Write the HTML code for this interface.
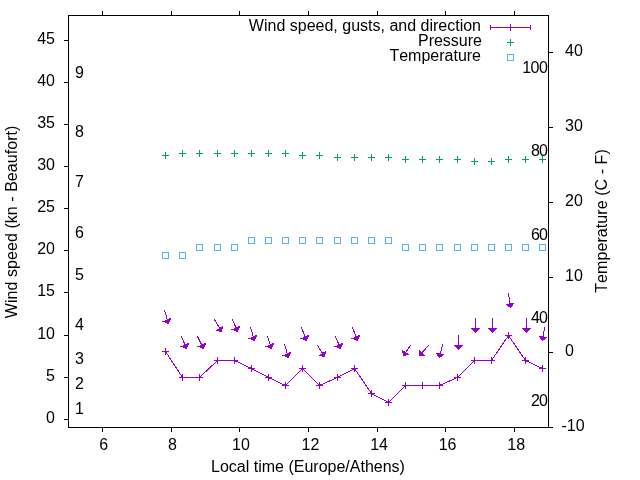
<!DOCTYPE html>
<html><head><meta charset="utf-8"><title>Wind speed, gusts, and direction</title>
<style>html,body{margin:0;padding:0;background:#fff;overflow:hidden}svg{display:block}text{font-family:"Liberation Sans",Arial,sans-serif;font-size:16px;fill:#000;font-kerning:none;font-variant-ligatures:none}</style></head><body>
<svg width="640" height="480" viewBox="0 0 640 480">
<rect width="640" height="480" fill="#fff"/>
<g stroke="#000" stroke-width="1" fill="none" shape-rendering="crispEdges">
<rect x="68.5" y="15.5" width="480.0" height="412.0"/>
</g><g fill="#000" shape-rendering="crispEdges">
<rect x="64" y="419" width="4" height="1"/>
<rect x="64" y="377" width="4" height="1"/>
<rect x="64" y="335" width="4" height="1"/>
<rect x="64" y="292" width="4" height="1"/>
<rect x="64" y="250" width="4" height="1"/>
<rect x="64" y="208" width="4" height="1"/>
<rect x="64" y="166" width="4" height="1"/>
<rect x="64" y="124" width="4" height="1"/>
<rect x="64" y="82" width="4" height="1"/>
<rect x="64" y="40" width="4" height="1"/>
<rect x="102" y="428" width="1" height="4"/>
<rect x="102" y="11" width="1" height="4"/>
<rect x="171" y="428" width="1" height="4"/>
<rect x="171" y="11" width="1" height="4"/>
<rect x="239" y="428" width="1" height="4"/>
<rect x="239" y="11" width="1" height="4"/>
<rect x="308" y="428" width="1" height="4"/>
<rect x="308" y="11" width="1" height="4"/>
<rect x="377" y="428" width="1" height="4"/>
<rect x="377" y="11" width="1" height="4"/>
<rect x="445" y="428" width="1" height="4"/>
<rect x="445" y="11" width="1" height="4"/>
<rect x="514" y="428" width="1" height="4"/>
<rect x="514" y="11" width="1" height="4"/>
<rect x="549" y="427" width="4" height="1"/>
<rect x="549" y="352" width="4" height="1"/>
<rect x="549" y="277" width="4" height="1"/>
<rect x="549" y="202" width="4" height="1"/>
<rect x="549" y="127" width="4" height="1"/>
<rect x="549" y="52" width="4" height="1"/>
</g>
<text x="55" y="423" text-anchor="end">0</text>
<text x="55" y="381" text-anchor="end">5</text>
<text x="55" y="339" text-anchor="end">10</text>
<text x="55" y="296" text-anchor="end">15</text>
<text x="55" y="254" text-anchor="end">20</text>
<text x="55" y="212" text-anchor="end">25</text>
<text x="55" y="170" text-anchor="end">30</text>
<text x="55" y="128" text-anchor="end">35</text>
<text x="55" y="86" text-anchor="end">40</text>
<text x="55" y="44" text-anchor="end">45</text>
<text x="103.8" y="450" text-anchor="middle">6</text>
<text x="172.4" y="450" text-anchor="middle">8</text>
<text x="240.9" y="450" text-anchor="middle">10</text>
<text x="310.5" y="450" text-anchor="middle">12</text>
<text x="379.1" y="450" text-anchor="middle">14</text>
<text x="447.6" y="450" text-anchor="middle">16</text>
<text x="516.2" y="450" text-anchor="middle">18</text>
<text x="561.5" y="431">-10</text>
<text x="565" y="356">0</text>
<text x="565" y="281">10</text>
<text x="565" y="206">20</text>
<text x="565" y="131">30</text>
<text x="565" y="56">40</text>
<text x="75" y="414">1</text>
<text x="75" y="389">2</text>
<text x="75" y="364">3</text>
<text x="75" y="330">4</text>
<text x="75" y="280">5</text>
<text x="75" y="238">6</text>
<text x="75" y="187">7</text>
<text x="75" y="137">8</text>
<text x="75" y="78">9</text>
<text x="546.9" y="406" text-anchor="end" letter-spacing="-1">20</text>
<text x="546.9" y="323" text-anchor="end" letter-spacing="-1">40</text>
<text x="546.9" y="240" text-anchor="end" letter-spacing="-1">60</text>
<text x="546.9" y="156" text-anchor="end" letter-spacing="-1">80</text>
<text x="547.4" y="73" text-anchor="end" letter-spacing="-0.5">100</text>
<text x="308" y="472" text-anchor="middle">Local time (Europe/Athens)</text>
<text transform="translate(16.5,221.9) rotate(-90)" text-anchor="middle" textLength="192.6" lengthAdjust="spacing">Wind speed (kn - Beaufort)</text>
<text transform="translate(607.4,221) rotate(-90)" text-anchor="middle" textLength="143.6" lengthAdjust="spacing">Temperature (C - F)</text>
<text x="481" y="31" text-anchor="end">Wind speed, gusts, and direction</text>
<text x="482" y="46" text-anchor="end">Pressure</text>
<text x="481" y="61" text-anchor="end">Temperature</text>
<g fill="none" stroke-width="1" shape-rendering="crispEdges">
<path d="M490 27.5H531M490.5 25V30M530.5 25V30M510.5 24V31" stroke="#9400d3"/>
<path d="M507.0 42.5H514.0M510.5 39.0V46.0" stroke="#009e73"/>
<rect x="507.5" y="54.5" width="6" height="6" stroke="#56b4e9"/>
<path d="M162.0 155.5H169.0M165.5 152.0V159.0" stroke="#009e73"/>
<path d="M179.0 153.5H186.0M182.5 150.0V157.0" stroke="#009e73"/>
<path d="M196.0 153.5H203.0M199.5 150.0V157.0" stroke="#009e73"/>
<path d="M214.0 153.5H221.0M217.5 150.0V157.0" stroke="#009e73"/>
<path d="M231.0 153.5H238.0M234.5 150.0V157.0" stroke="#009e73"/>
<path d="M248.0 153.5H255.0M251.5 150.0V157.0" stroke="#009e73"/>
<path d="M265.0 153.5H272.0M268.5 150.0V157.0" stroke="#009e73"/>
<path d="M282.0 153.5H289.0M285.5 150.0V157.0" stroke="#009e73"/>
<path d="M299.0 155.5H306.0M302.5 152.0V159.0" stroke="#009e73"/>
<path d="M316.0 155.5H323.0M319.5 152.0V159.0" stroke="#009e73"/>
<path d="M334.0 157.5H341.0M337.5 154.0V161.0" stroke="#009e73"/>
<path d="M351.0 157.5H358.0M354.5 154.0V161.0" stroke="#009e73"/>
<path d="M368.0 157.5H375.0M371.5 154.0V161.0" stroke="#009e73"/>
<path d="M385.0 157.5H392.0M388.5 154.0V161.0" stroke="#009e73"/>
<path d="M402.0 159.5H409.0M405.5 156.0V163.0" stroke="#009e73"/>
<path d="M419.0 159.5H426.0M422.5 156.0V163.0" stroke="#009e73"/>
<path d="M436.0 159.5H443.0M439.5 156.0V163.0" stroke="#009e73"/>
<path d="M454.0 159.5H461.0M457.5 156.0V163.0" stroke="#009e73"/>
<path d="M471.0 161.5H478.0M474.5 158.0V165.0" stroke="#009e73"/>
<path d="M488.0 161.5H495.0M491.5 158.0V165.0" stroke="#009e73"/>
<path d="M505.0 159.5H512.0M508.5 156.0V163.0" stroke="#009e73"/>
<path d="M522.0 159.5H529.0M525.5 156.0V163.0" stroke="#009e73"/>
<path d="M539.0 159.5H546.0M542.5 156.0V163.0" stroke="#009e73"/>
<rect x="162.5" y="252.5" width="6" height="6" stroke="#56b4e9"/>
<rect x="179.5" y="252.5" width="6" height="6" stroke="#56b4e9"/>
<rect x="196.5" y="244.5" width="6" height="6" stroke="#56b4e9"/>
<rect x="214.5" y="244.5" width="6" height="6" stroke="#56b4e9"/>
<rect x="231.5" y="244.5" width="6" height="6" stroke="#56b4e9"/>
<rect x="248.5" y="237.5" width="6" height="6" stroke="#56b4e9"/>
<rect x="265.5" y="237.5" width="6" height="6" stroke="#56b4e9"/>
<rect x="282.5" y="237.5" width="6" height="6" stroke="#56b4e9"/>
<rect x="299.5" y="237.5" width="6" height="6" stroke="#56b4e9"/>
<rect x="316.5" y="237.5" width="6" height="6" stroke="#56b4e9"/>
<rect x="334.5" y="237.5" width="6" height="6" stroke="#56b4e9"/>
<rect x="351.5" y="237.5" width="6" height="6" stroke="#56b4e9"/>
<rect x="368.5" y="237.5" width="6" height="6" stroke="#56b4e9"/>
<rect x="385.5" y="237.5" width="6" height="6" stroke="#56b4e9"/>
<rect x="402.5" y="244.5" width="6" height="6" stroke="#56b4e9"/>
<rect x="419.5" y="244.5" width="6" height="6" stroke="#56b4e9"/>
<rect x="436.5" y="244.5" width="6" height="6" stroke="#56b4e9"/>
<rect x="454.5" y="244.5" width="6" height="6" stroke="#56b4e9"/>
<rect x="471.5" y="244.5" width="6" height="6" stroke="#56b4e9"/>
<rect x="488.5" y="244.5" width="6" height="6" stroke="#56b4e9"/>
<rect x="505.5" y="244.5" width="6" height="6" stroke="#56b4e9"/>
<rect x="522.5" y="244.5" width="6" height="6" stroke="#56b4e9"/>
<rect x="539.5" y="244.5" width="6" height="6" stroke="#56b4e9"/>
</g>
<g fill="none" stroke="#9400d3" stroke-width="1" shape-rendering="crispEdges">
<polyline points="165.5,351.5 182.5,377.5 199.5,377.5 217.5,360.5 234.5,360.5 251.5,368.5 268.5,377.5 285.5,385.5 302.5,368.5 319.5,385.5 337.5,377.5 354.5,368.5 371.5,393.5 388.5,402.5 405.5,385.5 422.5,385.5 439.5,385.5 457.5,377.5 474.5,360.5 491.5,360.5 508.5,335.5 525.5,360.5 542.5,368.5"/>
</g><g fill="none" stroke-width="1" shape-rendering="crispEdges">
<path d="M162.0 351.5H169.0M165.5 348.0V355.0" stroke="#9400d3"/>
<path d="M179.0 377.5H186.0M182.5 374.0V381.0" stroke="#9400d3"/>
<path d="M196.0 377.5H203.0M199.5 374.0V381.0" stroke="#9400d3"/>
<path d="M214.0 360.5H221.0M217.5 357.0V364.0" stroke="#9400d3"/>
<path d="M231.0 360.5H238.0M234.5 357.0V364.0" stroke="#9400d3"/>
<path d="M248.0 368.5H255.0M251.5 365.0V372.0" stroke="#9400d3"/>
<path d="M265.0 377.5H272.0M268.5 374.0V381.0" stroke="#9400d3"/>
<path d="M282.0 385.5H289.0M285.5 382.0V389.0" stroke="#9400d3"/>
<path d="M299.0 368.5H306.0M302.5 365.0V372.0" stroke="#9400d3"/>
<path d="M316.0 385.5H323.0M319.5 382.0V389.0" stroke="#9400d3"/>
<path d="M334.0 377.5H341.0M337.5 374.0V381.0" stroke="#9400d3"/>
<path d="M351.0 368.5H358.0M354.5 365.0V372.0" stroke="#9400d3"/>
<path d="M368.0 393.5H375.0M371.5 390.0V397.0" stroke="#9400d3"/>
<path d="M385.0 402.5H392.0M388.5 399.0V406.0" stroke="#9400d3"/>
<path d="M402.0 385.5H409.0M405.5 382.0V389.0" stroke="#9400d3"/>
<path d="M419.0 385.5H426.0M422.5 382.0V389.0" stroke="#9400d3"/>
<path d="M436.0 385.5H443.0M439.5 382.0V389.0" stroke="#9400d3"/>
<path d="M454.0 377.5H461.0M457.5 374.0V381.0" stroke="#9400d3"/>
<path d="M471.0 360.5H478.0M474.5 357.0V364.0" stroke="#9400d3"/>
<path d="M488.0 360.5H495.0M491.5 357.0V364.0" stroke="#9400d3"/>
<path d="M505.0 335.5H512.0M508.5 332.0V339.0" stroke="#9400d3"/>
<path d="M522.0 360.5H529.0M525.5 357.0V364.0" stroke="#9400d3"/>
<path d="M539.0 368.5H546.0M542.5 365.0V372.0" stroke="#9400d3"/>
</g>
<g stroke="#9400d3" stroke-width="1" stroke-linecap="square" fill="#9400d3" shape-rendering="crispEdges">
<path d="M164.5 310.5L168.5 323.5M168.5 323.5L170.5 318.5L163.5 321.5Z"/>
<path d="M181.5 336.5L186.5 348.5M186.5 348.5L188.5 343.5L181.5 346.5Z"/>
<path d="M197.5 336.5L203.5 348.5M203.5 348.5L205.5 343.5L198.5 346.5Z"/>
<path d="M214.5 319.5L221.5 331.5M221.5 331.5L222.5 326.5L216.5 330.5Z"/>
<path d="M232.5 319.5L237.5 331.5M237.5 331.5L239.5 326.5L232.5 329.5Z"/>
<path d="M250.5 327.5L254.5 340.5M254.5 340.5L256.5 335.5L249.5 338.5Z"/>
<path d="M267.5 336.5L271.5 348.5M271.5 348.5L273.5 343.5L266.5 346.5Z"/>
<path d="M284.5 344.5L288.5 357.5M288.5 357.5L290.5 352.5L283.5 355.5Z"/>
<path d="M301.5 327.5L306.5 340.5M306.5 340.5L308.5 335.5L301.5 338.5Z"/>
<path d="M317.5 345.5L324.5 356.5M324.5 356.5L325.5 351.5L319.5 355.5Z"/>
<path d="M335.5 336.5L340.5 348.5M340.5 348.5L342.5 343.5L335.5 346.5Z"/>
<path d="M352.5 327.5L357.5 340.5M357.5 340.5L359.5 335.5L352.5 338.5Z"/>
<path d="M410.5 345.5L403.5 355.5M403.5 355.5L408.5 354.5L402.5 350.5Z"/>
<path d="M428.5 345.5L419.5 355.5M419.5 355.5L424.5 355.5L419.5 350.5Z"/>
<path d="M442.5 344.5L439.5 357.5M439.5 357.5L443.5 354.5L436.5 353.5Z"/>
<path d="M458.5 335.5L458.5 349.5M458.5 349.5L462.5 345.5L454.5 345.5Z"/>
<path d="M475.5 318.5L475.5 332.5M475.5 332.5L479.5 328.5L471.5 328.5Z"/>
<path d="M492.5 318.5L492.5 332.5M492.5 332.5L496.5 328.5L488.5 328.5Z"/>
<path d="M508.5 293.5L510.5 307.5M510.5 307.5L513.5 303.5L506.5 304.5Z"/>
<path d="M526.5 318.5L526.5 332.5M526.5 332.5L530.5 328.5L522.5 328.5Z"/>
<path d="M544.5 327.5L542.5 340.5M542.5 340.5L546.5 337.5L539.5 336.5Z"/>
</g>
</svg></body></html>
